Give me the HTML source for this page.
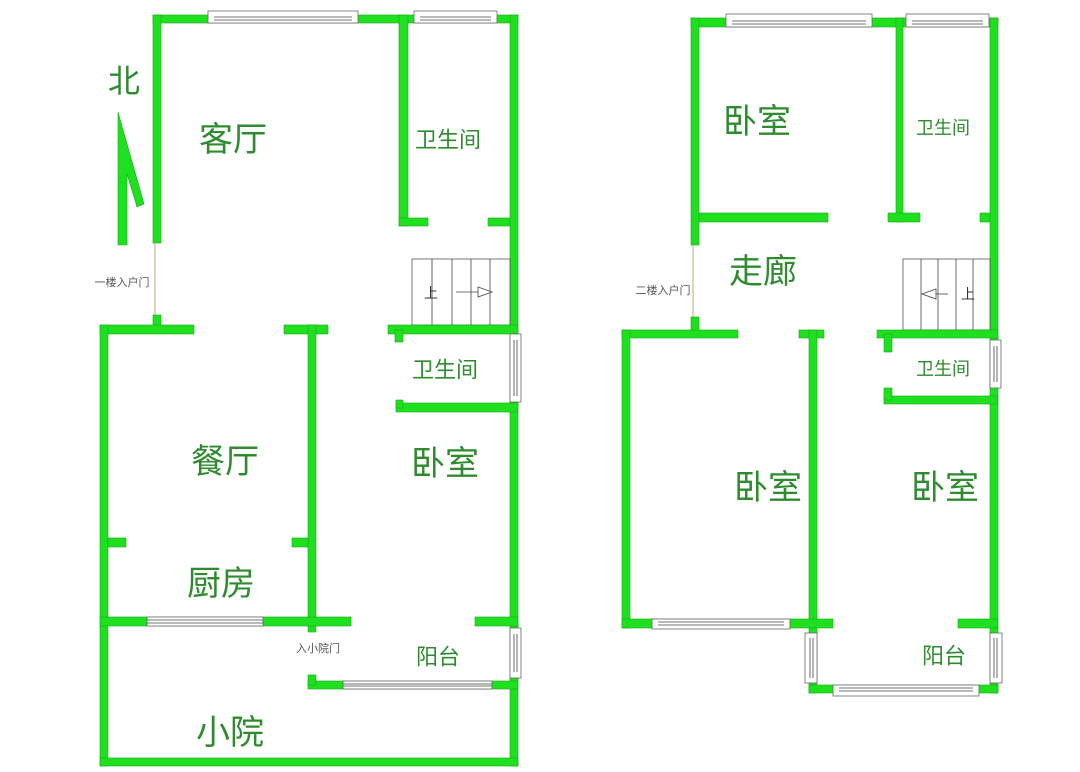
<!DOCTYPE html>
<html><head><meta charset="utf-8"><style>
html,body{margin:0;padding:0;background:#fff;width:1080px;height:772px;overflow:hidden}
svg{display:block}
.w{fill:#1fe01f;stroke:#18a818;stroke-width:0.6}
.win{fill:#fff;stroke:#666;stroke-width:0.8}
.t{fill:#2e8b2e;font-family:"Liberation Sans","Noto Sans CJK SC",sans-serif;text-anchor:middle;dominant-baseline:central}
.s{fill:#555;font-family:"Liberation Sans","Noto Sans CJK SC",sans-serif;text-anchor:middle;dominant-baseline:central;font-size:11px}
.ln{stroke:#444;stroke-width:0.8;fill:none}
</style></head><body>
<svg width="1080" height="772" viewBox="0 0 1080 772" xmlns="http://www.w3.org/2000/svg">
<!-- LEFT PLAN -->
<g>
<!-- top wall -->
<rect class="w" x="153" y="15" width="365" height="8"/>
<rect class="win" x="208" y="11" width="150" height="12"/>
<line class="ln" x1="214" y1="17" x2="352" y2="17"/><line class="ln" x1="214" y1="20" x2="352" y2="20"/>
<rect class="win" x="414" y="11" width="83" height="12"/>
<line class="ln" x1="420" y1="17" x2="491" y2="17"/><line class="ln" x1="420" y1="20" x2="491" y2="20"/>
<!-- living left wall -->
<rect class="w" x="153" y="15" width="8" height="228"/>
<line x1="155" y1="243" x2="155" y2="315" stroke="#b9a97a" stroke-width="1"/>
<rect class="w" x="153" y="315" width="8" height="12"/>
<!-- north arrow -->
<polygon class="w" points="118,112 144,204 137,207 127,174 127,245 118,245"/>
<text class="t" x="124" y="81" style="font-size:32px">北</text>
<!-- right outer wall -->
<rect class="w" x="510" y="15" width="8" height="751"/>
<!-- bathroom 1 -->
<rect class="w" x="399" y="15" width="9" height="211"/>
<rect class="w" x="399" y="218" width="29" height="8"/>
<rect class="w" x="488" y="218" width="22" height="8"/>
<!-- stairs -->
<rect x="412" y="259" width="98" height="66" fill="none" stroke="#555" stroke-width="0.8"/>
<line class="ln" x1="432" y1="259" x2="432" y2="325"/><line class="ln" x1="452" y1="259" x2="452" y2="325"/>
<line class="ln" x1="471" y1="259" x2="471" y2="325"/><line class="ln" x1="490" y1="259" x2="490" y2="325"/>
<line class="ln" x1="456" y1="292" x2="478" y2="292"/>
<polygon points="478,287 492,292 478,297" fill="#fff" stroke="#444" stroke-width="0.8"/>
<text x="431" y="293" style="font-size:14px;fill:#333;font-family:'Liberation Sans','Noto Sans CJK SC',sans-serif;text-anchor:middle;dominant-baseline:central">上</text>
<!-- horizontal wall y325 -->
<rect class="w" x="100" y="325" width="94" height="9"/>
<rect class="w" x="284" y="325" width="44" height="9"/>
<rect class="w" x="388" y="325" width="130" height="9"/>
<rect class="w" x="395" y="330" width="8" height="12"/>
<!-- left outer wall -->
<rect class="w" x="100" y="325" width="8" height="441"/>
<!-- middle vertical -->
<rect class="w" x="308" y="325" width="8" height="307"/>
<!-- bath2 window -->
<rect class="win" x="510" y="334" width="11" height="68"/>
<line class="ln" x1="514" y1="340" x2="514" y2="396"/><line class="ln" x1="517" y1="340" x2="517" y2="396"/>
<!-- bath2 bottom -->
<rect class="w" x="396" y="403" width="122" height="9"/>
<rect class="w" x="396" y="400" width="7" height="8"/>
<!-- dining stubs -->
<rect class="w" x="108" y="538" width="18" height="9"/>
<rect class="w" x="292" y="538" width="16" height="9"/>
<!-- kitchen bottom -->
<rect class="w" x="100" y="617" width="251" height="9"/>
<rect class="win" x="147" y="617" width="116" height="9"/>
<line class="ln" x1="147" y1="620" x2="263" y2="620"/><line class="ln" x1="147" y1="623" x2="263" y2="623"/>
<rect class="w" x="475" y="617" width="43" height="9"/>
<!-- balcony right window -->
<rect class="win" x="510" y="628" width="11" height="50"/>
<line class="ln" x1="514" y1="634" x2="514" y2="672"/><line class="ln" x1="517" y1="634" x2="517" y2="672"/>
<!-- balcony bottom -->
<rect class="w" x="308" y="681" width="210" height="8"/>
<rect class="w" x="308" y="675" width="8" height="10"/>
<rect class="win" x="343" y="681" width="149" height="8"/>
<line class="ln" x1="343" y1="684" x2="492" y2="684"/><line class="ln" x1="343" y1="686" x2="492" y2="686"/>
<!-- bottom wall -->
<rect class="w" x="100" y="758" width="418" height="8"/>
<!-- labels -->
<text class="t" x="233" y="140" style="font-size:34px">客厅</text>
<text class="t" x="448" y="140" style="font-size:22px">卫生间</text>
<text class="t" x="445" y="370" style="font-size:22px">卫生间</text>
<text class="t" x="225" y="462" style="font-size:34px">餐厅</text>
<text class="t" x="445" y="464" style="font-size:34px">卧室</text>
<text class="t" x="221" y="584" style="font-size:34px">厨房</text>
<text class="t" x="230" y="733" style="font-size:34px">小院</text>
<text class="t" x="438" y="657" style="font-size:22px">阳台</text>
<text class="s" x="318" y="649">入小院门</text>
<text class="s" x="122" y="283">一楼入户门</text>
</g>

<!-- RIGHT PLAN -->
<g>
<rect class="w" x="691" y="18" width="307" height="9"/>
<rect class="win" x="726" y="14" width="146" height="13"/>
<line class="ln" x1="732" y1="21" x2="866" y2="21"/><line class="ln" x1="732" y1="24" x2="866" y2="24"/>
<rect class="win" x="906" y="14" width="83" height="13"/>
<line class="ln" x1="912" y1="21" x2="983" y2="21"/><line class="ln" x1="912" y1="24" x2="983" y2="24"/>
<rect class="w" x="691" y="18" width="8" height="227"/>
<line x1="693" y1="245" x2="693" y2="317" stroke="#b9a97a" stroke-width="1"/>
<rect class="w" x="691" y="317" width="8" height="14"/>
<rect class="w" x="699" y="213" width="129" height="9"/>
<rect class="w" x="896" y="18" width="7" height="204"/>
<rect class="w" x="888" y="213" width="32" height="9"/>
<rect class="w" x="990" y="18" width="8" height="610"/>
<rect class="w" x="980" y="213" width="10" height="9"/>
<!-- stairs -->
<rect x="903" y="259" width="87" height="71" fill="none" stroke="#555" stroke-width="0.8"/>
<line class="ln" x1="921" y1="259" x2="921" y2="330"/><line class="ln" x1="938" y1="259" x2="938" y2="330"/>
<line class="ln" x1="956" y1="259" x2="956" y2="330"/><line class="ln" x1="973" y1="259" x2="973" y2="330"/>
<polygon points="936,289 922,294 936,299" fill="#fff" stroke="#444" stroke-width="0.8"/>
<line class="ln" x1="936" y1="294" x2="948" y2="294"/>
<text x="968" y="294" style="font-size:14px;fill:#333;font-family:'Liberation Sans','Noto Sans CJK SC',sans-serif;text-anchor:middle;dominant-baseline:central">上</text>
<!-- horizontal y330 -->
<rect class="w" x="622" y="330" width="116" height="8"/>
<rect class="w" x="799" y="330" width="25" height="8"/>
<rect class="w" x="877" y="330" width="121" height="8"/>
<rect class="w" x="884" y="334" width="8" height="18"/>
<rect class="w" x="622" y="330" width="8" height="298"/>
<rect class="w" x="809" y="330" width="8" height="298"/>
<!-- bath window -->
<rect class="win" x="990" y="340" width="11" height="48"/>
<line class="ln" x1="994" y1="346" x2="994" y2="382"/><line class="ln" x1="997" y1="346" x2="997" y2="382"/>
<rect class="w" x="884" y="396" width="114" height="8"/>
<rect class="w" x="884" y="388" width="8" height="12"/>
<!-- bedrooms bottom -->
<rect class="w" x="622" y="619" width="211" height="9"/>
<rect class="win" x="652" y="619" width="138" height="10"/>
<line class="ln" x1="658" y1="622" x2="784" y2="622"/><line class="ln" x1="658" y1="625" x2="784" y2="625"/>
<rect class="w" x="958" y="619" width="40" height="9"/>
<!-- balcony -->
<rect class="w" x="809" y="628" width="8" height="65"/>
<rect class="win" x="805" y="633" width="12" height="50"/>
<line class="ln" x1="810" y1="638" x2="810" y2="678"/><line class="ln" x1="813" y1="638" x2="813" y2="678"/>
<rect class="w" x="990" y="628" width="8" height="65"/>
<rect class="win" x="990" y="633" width="12" height="50"/>
<line class="ln" x1="994" y1="638" x2="994" y2="678"/><line class="ln" x1="997" y1="638" x2="997" y2="678"/>
<rect class="w" x="809" y="685" width="189" height="8"/>
<rect class="win" x="833" y="685" width="146" height="11"/>
<line class="ln" x1="839" y1="688" x2="973" y2="688"/><line class="ln" x1="839" y1="691" x2="973" y2="691"/>
<!-- labels -->
<text class="t" x="757" y="122" style="font-size:34px">卧室</text>
<text class="t" x="943" y="128" style="font-size:18px">卫生间</text>
<text class="t" x="763" y="272" style="font-size:34px">走廊</text>
<text class="s" x="663" y="291">二楼入户门</text>
<text class="t" x="943" y="369" style="font-size:18px">卫生间</text>
<text class="t" x="768" y="488" style="font-size:34px">卧室</text>
<text class="t" x="945" y="488" style="font-size:34px">卧室</text>
<text class="t" x="944" y="656" style="font-size:22px">阳台</text>
</g>
</svg>
</body></html>
